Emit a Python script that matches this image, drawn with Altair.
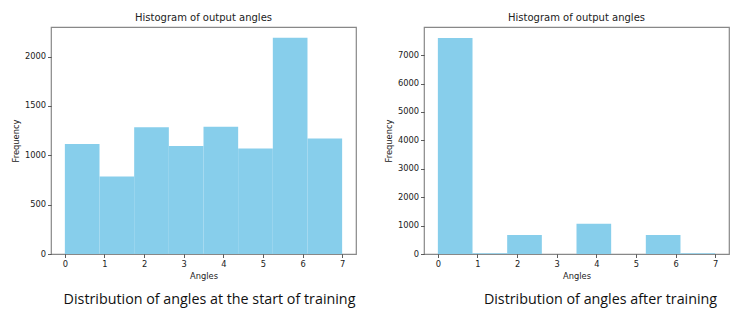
import altair as alt
import pandas as pd

# Bin edges (8 bins between 0 and 7)
bin_start = [0.0, 0.875, 1.75, 2.625, 3.5, 4.375, 5.25, 6.125]
bin_end = [0.875, 1.75, 2.625, 3.5, 4.375, 5.25, 6.125, 7.0]

counts_start = [1115, 785, 1285, 1095, 1290, 1070, 2190, 1170]
counts_after = [7600, 30, 665, 0, 1065, 0, 670, 30]

titles = ["Histogram of output angles", "Histogram of output angles"]
captions = ["Distribution of angles at the start of training",
            "Distribution of angles after training"]
x_ticks = [0, 1, 2, 3, 4, 5, 6, 7]
y_ticks_start = [0, 500, 1000, 1500, 2000]
y_ticks_after = [0, 1000, 2000, 3000, 4000, 5000, 6000, 7000]

FONT = "DejaVu Sans"
W, H = 305, 227


def panel(counts, ymax, yticks, title, caption, cap_x):
    df = pd.DataFrame({"start": bin_start, "end": bin_end, "count": counts})
    bars = alt.Chart(df).mark_rect(color="#87CEEB").encode(
        x=alt.X("start:Q", scale=alt.Scale(domain=[-0.35, 7.35], nice=False, zero=False),
                axis=alt.Axis(values=x_ticks, title="Angles", format="d")),
        x2="end:Q",
        y=alt.Y("count:Q", scale=alt.Scale(domain=[0, ymax], nice=False),
                axis=alt.Axis(values=yticks, title="Frequency", format="d")),
        y2=alt.datum(0),
    )
    cap_df = pd.DataFrame({"caption": [caption]})
    cap = alt.Chart(cap_df).mark_text(
        font="Open Sans", fontSize=14.3, color="#111", align="center", baseline="alphabetic"
    ).encode(
        text="caption:N",
        x=alt.value(cap_x),
        y=alt.value(277),
    )
    return alt.layer(bars, cap).properties(
        width=W, height=H,
        title=alt.TitleParams(title, fontSize=10, font=FONT, fontWeight="normal",
                              color="#222", offset=4),
    )


left = panel(counts_start, 2300, y_ticks_start, titles[0], captions[0], 158.5)
right = panel(counts_after, 7990, y_ticks_after, titles[1], captions[1], 176.5)

chart = alt.hconcat(left, right, spacing=26).properties(
    padding={"left": 2, "top": 4, "right": 0, "bottom": 0},
    background="white",
).configure_view(
    stroke="#888", strokeWidth=1.2
).configure_axis(
    domain=False, grid=False, tickColor="#333", tickSize=3.5, tickWidth=0.8,
    labelFont=FONT, labelFontSize=8.3, labelColor="#222", labelPadding=2,
    titleFont=FONT, titleFontSize=8.3, titleFontWeight="normal", titleColor="#222",
    titlePadding=4,
)

chart.save("out.html", embed_options={"renderer": "svg", "actions": False})
